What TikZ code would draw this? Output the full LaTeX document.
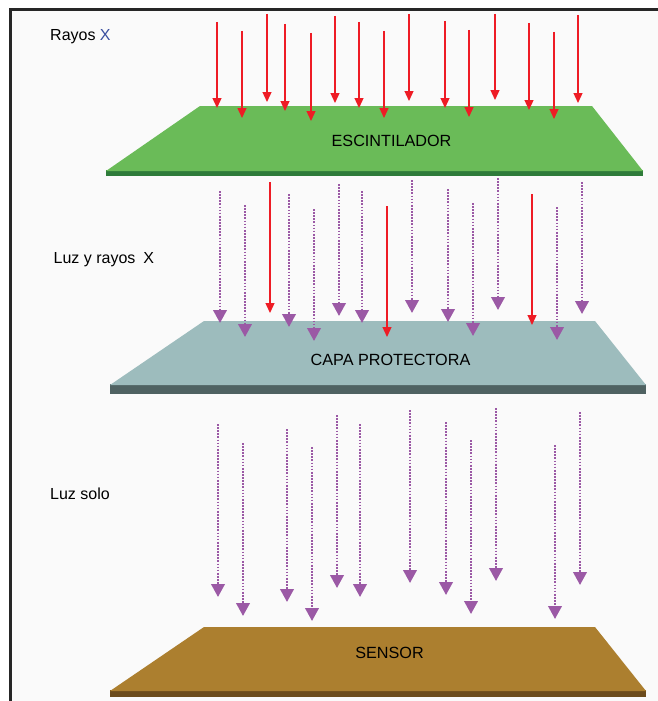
\documentclass[tikz,border=0pt]{standalone}
\usepackage{fontspec}
\setmainfont{Liberation Sans}
\usetikzlibrary{arrows.meta}
\definecolor{bgc}{HTML}{FAFAFA}
\definecolor{framec}{HTML}{262626}
\definecolor{greentop}{HTML}{6ABB58}
\definecolor{greenedge}{HTML}{2E7B3A}
\definecolor{captop}{HTML}{9DBCBD}
\definecolor{capedge}{HTML}{4F6262}
\definecolor{sentop}{HTML}{AC7F2F}
\definecolor{senedge}{HTML}{6C4C1C}
\definecolor{rayred}{HTML}{EE1C25}
\definecolor{lightpurple}{HTML}{9B59A5}
\definecolor{xblue}{HTML}{3A4FA0}
\tikzset{
  xray/.style={draw=rayred, line width=1.3pt, -{Triangle[width=9pt,length=10pt]}},
  light/.style={draw=lightpurple, line width=2.3pt, dash pattern=on 1.7pt off 1.4pt, -{Triangle[width=13.5pt,length=13pt]}},
  lbl/.style={font=\fontsize{16}{19}\selectfont, text=black, inner sep=0pt},
  platetext/.style={font=\fontsize{16.2}{19}\selectfont, text=black, inner sep=0pt, anchor=base},
}
\begin{document}
\begin{tikzpicture}[x=1pt,y=-1pt]
\useasboundingbox (0,0) rectangle (658,701);
\begin{scope}
  \clip (0,0) rectangle (658,701);
  \fill[bgc] (10,9) rectangle (700,730);
  \draw[framec, line width=3pt] (10.5,9.5) rectangle (700,730);
\end{scope}

% Plates
\fill[greenedge] (106,170) rectangle (643,176);
\fill[greentop] (200,106) -- (592,106) -- (643,171) -- (106,171) -- cycle;
\fill[capedge] (110,384) rectangle (646,394);
\fill[captop] (204,321) -- (595,321) -- (646,385) -- (110,385) -- cycle;
\fill[senedge] (110,690) rectangle (646,697);
\fill[sentop] (204,627) -- (595,627) -- (646,691) -- (110,691) -- cycle;

\node[platetext] (esc) at (391.5,146) {ESCINTILADOR};
\node[platetext] (cap) at (390.5,365) {CAPA PROTECTORA};
\node[platetext] (sen) at (389.5,658) {SENSOR};

\node[lbl, anchor=base west] (l1) at (50,40.5) {Rayos \textcolor{xblue}{X}};
\node[lbl, anchor=base west] (l2) at (53.5,263) {Luz y rayos\enspace X};
\node[lbl, anchor=base west] (l3) at (50,499.3) {Luz solo};

% X-rays on top
\foreach \x/\s/\t in {217/22/108, 242/31/118, 267/14/102, 285/24/111, 311/33/121,
  335/16/103, 359/22/108, 384/31/118, 409/14/101, 445/21/108, 469/30/117,
  495/14/100, 529/23/110, 554/32/119, 578/15/103}
  \draw[xray] (\x,\s) -- (\x,\t);

% middle: light and X-rays
\foreach \x/\s/\t in {220/191/323, 245/205/337, 289/194/327, 314/209/341,
  339/184/316, 362/191/323, 412/180/313, 448/189/322, 473/203/336,
  498/178/310, 557/207/340, 582/182/314}
  \draw[light] (\x,\s) -- (\x,\t);
\foreach \x/\s/\t in {270/182/313, 387/206/337, 532/194/325}
  \draw[xray] (\x,\s) -- (\x,\t);

% bottom: light only
\foreach \x/\s/\t in {218/424/597, 243/443/616, 287/429/602, 312/447/621,
  337/415/588, 360/424/597, 410/410/583, 446/422/595, 471/440/614,
  496/408/581, 555/445/619, 580/412/585}
  \draw[light] (\x,\s) -- (\x,\t);
\end{tikzpicture}
\end{document}
